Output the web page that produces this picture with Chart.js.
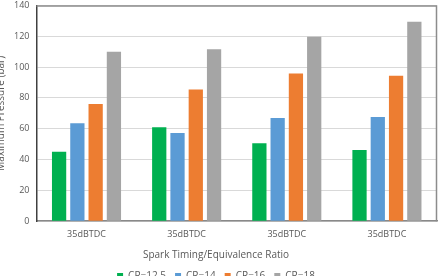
<!DOCTYPE html>
<html>
<head>
<meta charset="utf-8">
<script src="https://cdn.jsdelivr.net/npm/chart.js@4/dist/chart.umd.min.js"></script>
<style>
  html, body { margin: 0; padding: 0; background: #fff; overflow: hidden; width: 442px; height: 276px; }
  #wrap { position: relative; width: 442px; height: 276px; overflow: hidden; }
  #c { position: absolute; left: -5px; top: -7px; }
</style>
</head>
<body>
<div id="wrap"><canvas id="c" width="447" height="298"></canvas></div>
<script>
// categories + series
const categories = ['35dBTDC', '35dBTDC', '35dBTDC', '35dBTDC'];
const cr125 = [45, 61, 50.5, 46.2];
const cr14  = [63.5, 57.2, 67, 67.6];
const cr16  = [76, 85.4, 95.8, 94.4];
const cr18  = [110, 111.6, 119.6, 129.4];

const FONT = 'Open Sans';
const TXT = '#595959';

// frame round the plot area (top/right lines like the excel chart)
const frame = {
  id: 'frame',
  afterDraw(chart) {
    const { ctx, chartArea: a } = chart;
    ctx.save();
    ctx.strokeStyle = '#8c8c8c';
    ctx.lineWidth = 1.5;
    ctx.beginPath();
    ctx.moveTo(a.left, a.top + 0.5);
    ctx.lineTo(a.right - 0.5, a.top + 0.5);
    ctx.lineTo(a.right - 0.5, a.bottom);
    ctx.stroke();
    ctx.restore();
  }
};

const mk = (label, data, color) => ({
  label, data, backgroundColor: color, borderWidth: 0,
  categoryPercentage: 0.73, barPercentage: 0.78
});

new Chart(document.getElementById('c'), {
  type: 'bar',
  data: {
    labels: categories,
    datasets: [
      mk('CR=12.5', cr125, '#00b050'),
      mk('CR=14', cr14, '#5b9bd5'),
      mk('CR=16', cr16, '#ed7d31'),
      mk('CR=18', cr18, '#a5a5a5')
    ]
  },
  options: {
    responsive: false,
    animation: false,
    layout: { padding: { left: 0, right: 5, top: 0, bottom: 0 } },
    plugins: {
      legend: {
        position: 'bottom',
        labels: { color: TXT, font: { family: FONT, size: 10 }, boxWidth: 6, boxHeight: 6, padding: 9 }
      },
      title: {
        display: true, position: 'bottom', weight: 500,
        text: 'Spark Timing/Equivalence Ratio',
        color: TXT, font: { family: FONT, size: 10, weight: 'normal' },
        padding: { top: 9, bottom: 1 }
      },
      tooltip: { enabled: false }
    },
    scales: {
      x: {
        grid: { display: false },
        border: { color: '#898989', width: 1.5 },
        ticks: { color: TXT, font: { family: FONT, size: 9 }, padding: 0 }
      },
      y: {
        min: 0, max: 140,
        ticks: { stepSize: 20, color: TXT, font: { family: FONT, size: 9 }, padding: 7 },
        grid: { color: '#d9d9d9', drawTicks: false },
        border: { color: '#404040', width: 1.5 },
        title: { display: true, text: 'Maximum Pressure (bar)', color: TXT, font: { family: FONT, size: 10 }, padding: 0 }
      }
    }
  },
  plugins: [frame]
});
</script>
</body>
</html>
